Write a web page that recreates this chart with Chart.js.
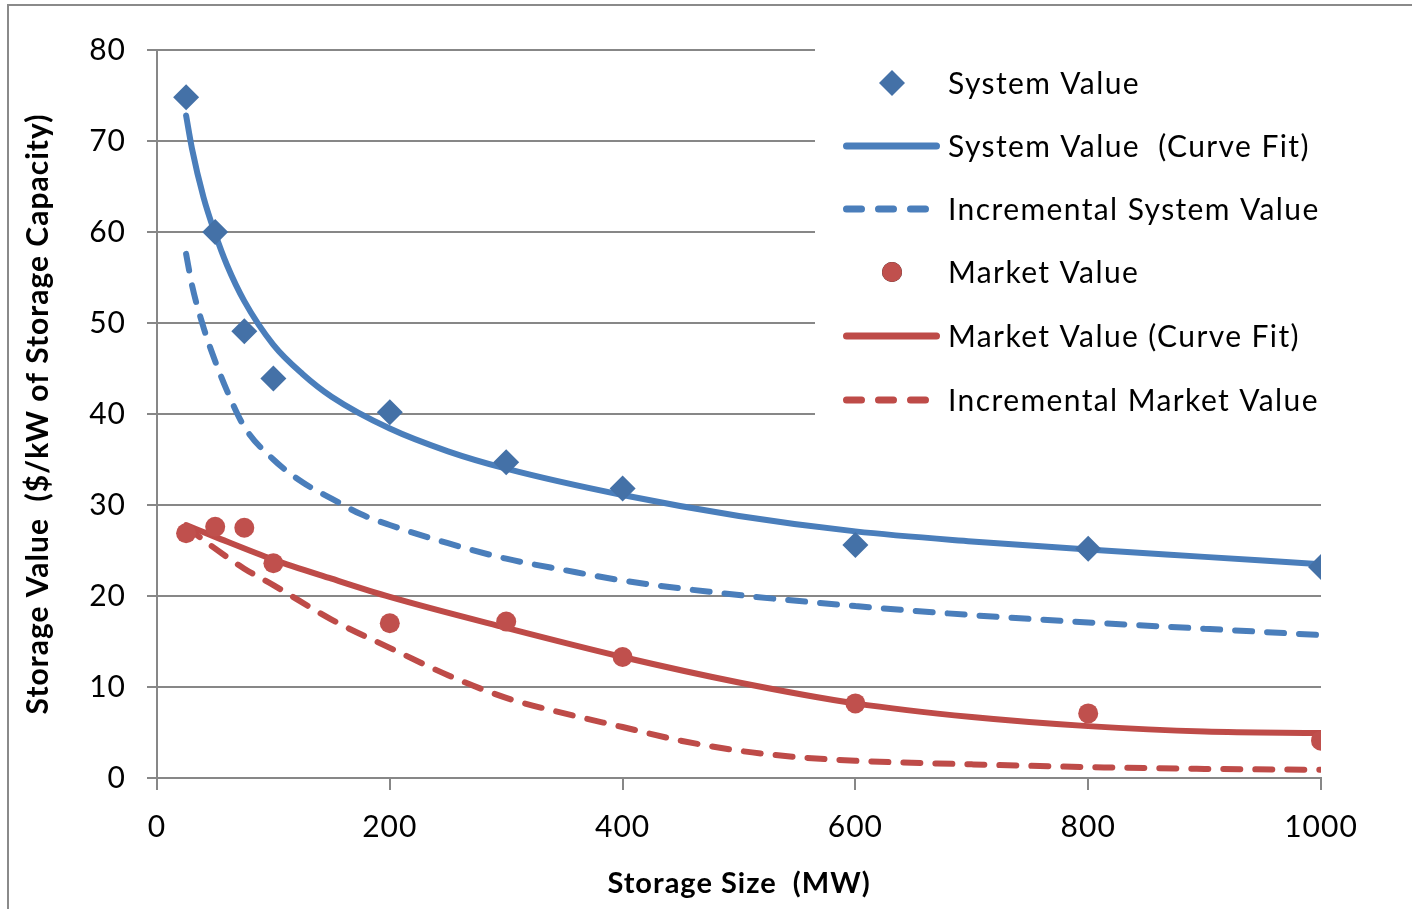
<!DOCTYPE html>
<html>
<head>
<meta charset="utf-8">
<title>Storage Value vs Storage Size</title>
<script src="https://cdn.jsdelivr.net/npm/chart.js@4.4.1/dist/chart.umd.min.js"></script>
<style>
  html, body { margin: 0; padding: 0; background: #fff; }
  #wrap { position: relative; width: 1412px; height: 909px; overflow: hidden; }
  #frame { position: absolute; left: 7px; top: 4px; width: 1500px; height: 1000px;
           border: 2px solid #8a8a8a; box-sizing: border-box; }
  #chart { position: absolute; left: 0; top: 0; }
</style>
</head>
<body>
<div id="wrap">
  <div id="frame"></div>
  <canvas id="chart" width="1412" height="909"></canvas>
</div>
<script>
// ── Data ───────────────────────────────────────────────────────────────────────

const sizeMW      = [25, 50, 75, 100, 200, 300, 400, 600, 800, 1000];
const systemValue = [74.8, 60.0, 49.1, 43.9, 40.2, 34.7, 31.8, 25.6, 25.2, 23.2];
const marketValue = [26.9, 27.6, 27.5, 23.6, 17.0, 17.2, 13.3, 8.2, 7.1, 4.1];

const systemFitX  = [25, 30, 40, 50, 60, 75, 100, 125, 150, 200, 250, 300, 400, 500, 600, 700, 800, 900, 1000];
const systemFit   = [72.8, 69.2, 63.8, 59.8, 56.4, 52.4, 47.6, 44.4, 41.9, 38.4, 35.9, 34.0, 31.1, 28.8, 27.1, 26.0, 25.1, 24.3, 23.5];

const incSystemX  = [25, 30, 40, 50, 60, 75, 100, 125, 150, 175, 200, 250, 300, 350, 400, 500, 600, 700, 800, 900, 1000];
const incSystem   = [57.6, 54.2, 49.5, 45.8, 42.6, 38.6, 35.0, 32.5, 30.7, 29.0, 27.8, 25.8, 24.1, 22.85, 21.7, 20.1, 18.9, 17.9, 17.1, 16.4, 15.7];

const marketFitX  = [25, 50, 100, 150, 200, 300, 400, 500, 600, 700, 800, 900, 1000];
const marketFit   = [27.8, 26.5, 24.0, 21.9, 19.9, 16.5, 13.3, 10.5, 8.2, 6.7, 5.7, 5.1, 4.95];

const incMarketX  = [25, 50, 75, 100, 150, 200, 250, 300, 350, 400, 450, 500, 550, 600, 700, 800, 900, 1000];
const incMarket   = [27.6, 25.2, 23.0, 21.2, 17.4, 14.3, 11.3, 8.8, 7.1, 5.6, 4.1, 3.0, 2.3, 1.9, 1.5, 1.2, 1.0, 0.9];

const xTicks = [0, 200, 400, 600, 800, 1000];
const yTicks = [0, 10, 20, 30, 40, 50, 60, 70, 80];

const BLUE      = '#4a7ebb';
const BLUE_MARK = '#4471a7';
const RED       = '#be4b48';
const RED_MARK  = '#c0504d';
const AXIS      = '#878787';
const FONT      = 'Lato';
const SPACING   = '1px';

const pts = (xs, ys) => xs.map((x, i) => ({ x, y: ys[i] }));

// ── Plugins ───────────────────────────────────────────────────────────────────

const letterSpacing = {
  id: 'letterSpacing',
  beforeUpdate(chart) { chart.ctx.letterSpacing = SPACING; },
  beforeDraw(chart)   { chart.ctx.letterSpacing = SPACING; }
};

// legend boxed inside the plot, upper right (covers the gridlines)
const innerLegend = {
  id: 'innerLegend',
  beforeDatasetsDraw(chart) {
    const ctx = chart.ctx;
    const rows = [83, 146, 209, 272, 336, 400];
    ctx.save();
    ctx.fillStyle = '#fff';
    ctx.fillRect(815, 48, 530, 382);
    ctx.font = '30px ' + FONT;
    ctx.letterSpacing = '1.4px';
    ctx.textBaseline = 'middle';
    ctx.textAlign = 'left';
    chart.data.datasets.forEach((ds, i) => {
      const y = rows[i];
      if (ds.showLine) {
        ctx.strokeStyle = ds.borderColor;
        ctx.lineWidth = 7;
        ctx.lineCap = 'round';
        ctx.setLineDash(ds.borderDash ? [15, 17] : []);
        ctx.beginPath();
        ctx.moveTo(846.5, y);
        ctx.lineTo(ds.borderDash ? 926 : 936.5, y);
        ctx.stroke();
        ctx.setLineDash([]);
      } else {
        Chart.helpers.drawPoint(ctx, {
          pointStyle: ds.pointStyle, radius: ds.pointStyle === 'circle' ? 10 : 13,
          borderWidth: 0, rotation: 0
        }, 892, y);
        ctx.fillStyle = ds.pointBackgroundColor;
        ctx.fill();
      }
      ctx.fillStyle = '#000';
      ctx.fillText(ds.label, 948, y + 1);
    });
    ctx.restore();
  }
};

// ── Chart ─────────────────────────────────────────────────────────────────────

const lineSet = (label, data, color, dashed) => ({
  label, data, showLine: true,
  borderColor: color, borderWidth: 6, borderCapStyle: 'round',
  borderDash: dashed ? [17, 15] : undefined,
  pointRadius: 0, cubicInterpolationMode: 'monotone'
});

new Chart(document.getElementById('chart'), {
  type: 'scatter',
  data: {
    datasets: [
      { label: 'System Value', data: pts(sizeMW, systemValue), pointStyle: 'rectRot',
        pointRadius: 13, pointBackgroundColor: BLUE_MARK, pointBorderWidth: 0 },
      lineSet('System Value  (Curve Fit)', pts(systemFitX, systemFit), BLUE, false),
      lineSet('Incremental System Value', pts(incSystemX, incSystem), BLUE, true),
      { label: 'Market Value', data: pts(sizeMW, marketValue), pointStyle: 'circle',
        pointRadius: 10, pointBackgroundColor: RED_MARK, pointBorderWidth: 0 },
      lineSet('Market Value (Curve Fit)', pts(marketFitX, marketFit), RED, false),
      lineSet('Incremental Market Value', pts(incMarketX, incMarket), RED, true)
    ]
  },
  options: {
    responsive: false,
    animation: false,
    events: [],
    layout: { padding: { left: 0, top: 50, right: 91, bottom: 0 } },
    plugins: { legend: { display: false }, tooltip: { enabled: false } },
    scales: {
      x: {
        type: 'linear', min: 0, max: 1000,
        afterBuildTicks: s => { s.ticks = xTicks.map(v => ({ value: v })); },
        afterFit: s => { s.height = 131; },
        grid: { drawOnChartArea: false, drawTicks: true, tickLength: 12, color: AXIS, lineWidth: 2 },
        border: { color: AXIS, width: 2 },
        ticks: { color: '#000', padding: 19, font: { family: FONT, size: 30 }, callback: v => String(v) },
        title: { display: true, text: 'Storage Size  (MW)', color: '#000',
                 padding: { top: 0, bottom: 8 }, font: { family: FONT, size: 29, weight: 'bold' } }
      },
      y: {
        min: 0, max: 80,
        afterBuildTicks: s => { s.ticks = yTicks.map(v => ({ value: v })); },
        afterFit: s => { s.width = 157; },
        grid: { color: AXIS, lineWidth: 2, drawTicks: true, tickLength: 10 },
        border: { color: AXIS, width: 2 },
        ticks: { color: '#000', padding: 21, font: { family: FONT, size: 30 }, callback: v => String(v) },
        title: { display: true, text: 'Storage Value  ($/kW of Storage Capacity)', color: '#000',
                 padding: { top: 20, bottom: 0 }, font: { family: FONT, size: 30, weight: 'bold' } }
      }
    }
  },
  plugins: [letterSpacing, innerLegend]
});
</script>
</body>
</html>
